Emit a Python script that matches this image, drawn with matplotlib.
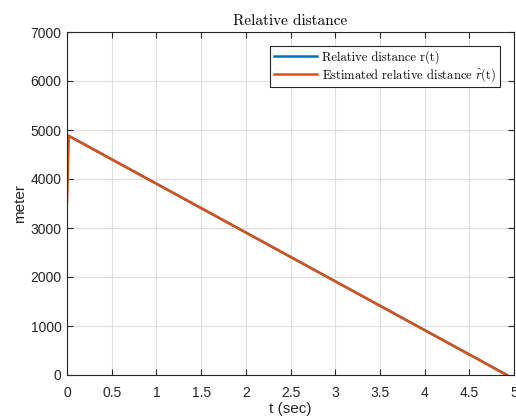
import matplotlib
matplotlib.use("Agg")
import matplotlib.pyplot as plt
import numpy as np

plt.rcParams["mathtext.fontset"] = "cm"
plt.rcParams["font.family"] = ["Liberation Sans", "DejaVu Sans"]

# true range r(t) and the estimator's output rhat(t)
t_true = [0.0, 4.92]
r_true = [4900, 0]
t_est = [0.0, 0.02, 4.92]
r_est = [3500, 4880, 0]

fig = plt.figure(figsize=(5.16, 4.16), dpi=100)
ax = fig.add_axes([67 / 516, 41 / 416, 447 / 516, 343 / 416])

ax.plot(t_true, r_true, color="#0072BD", lw=1.8, label="Relative distance r(t)")
ax.plot(t_est, r_est, color="#D95319", lw=1.8,
        label=r"Estimated relative distance $\hat{r}$(t)")

ax.set_xlim(0, 5)
ax.set_ylim(0, 7000)
ax.set_xticks(np.arange(0, 5.01, 0.5))
ax.set_xticklabels(["0", "0.5", "1", "1.5", "2", "2.5", "3", "3.5", "4", "4.5", "5"])
ax.set_yticks(np.arange(0, 7001, 1000))

ax.grid(True, color="#dfdfdf", lw=0.8)
ax.set_axisbelow(True)
for s in ax.spines.values():
    s.set_color("#262626")
    s.set_linewidth(0.8)
ax.tick_params(direction="in", top=True, right=True, length=4, colors="#262626",
               labelsize=10, labelcolor="#262626")
ax.tick_params(axis="x", pad=8)
ax.tick_params(axis="y", pad=4)

ax.set_title("Relative distance", fontname="cmr10", fontsize=11, pad=5)
ax.set_xlabel("t (sec)", fontsize=11, color="#262626", labelpad=1)
ax.set_ylabel("meter", fontsize=11, color="#262626", labelpad=2)

leg = ax.legend(loc="upper right", bbox_to_anchor=(0.968, 0.958), fancybox=False,
                edgecolor="#262626", framealpha=1, borderaxespad=0,
                handlelength=3.4, handletextpad=0.4, borderpad=0.3, labelspacing=0.15,
                prop={"family": "cmr10", "size": 9})
leg.get_frame().set_linewidth(0.8)

fig.savefig("out.png", dpi=100)
